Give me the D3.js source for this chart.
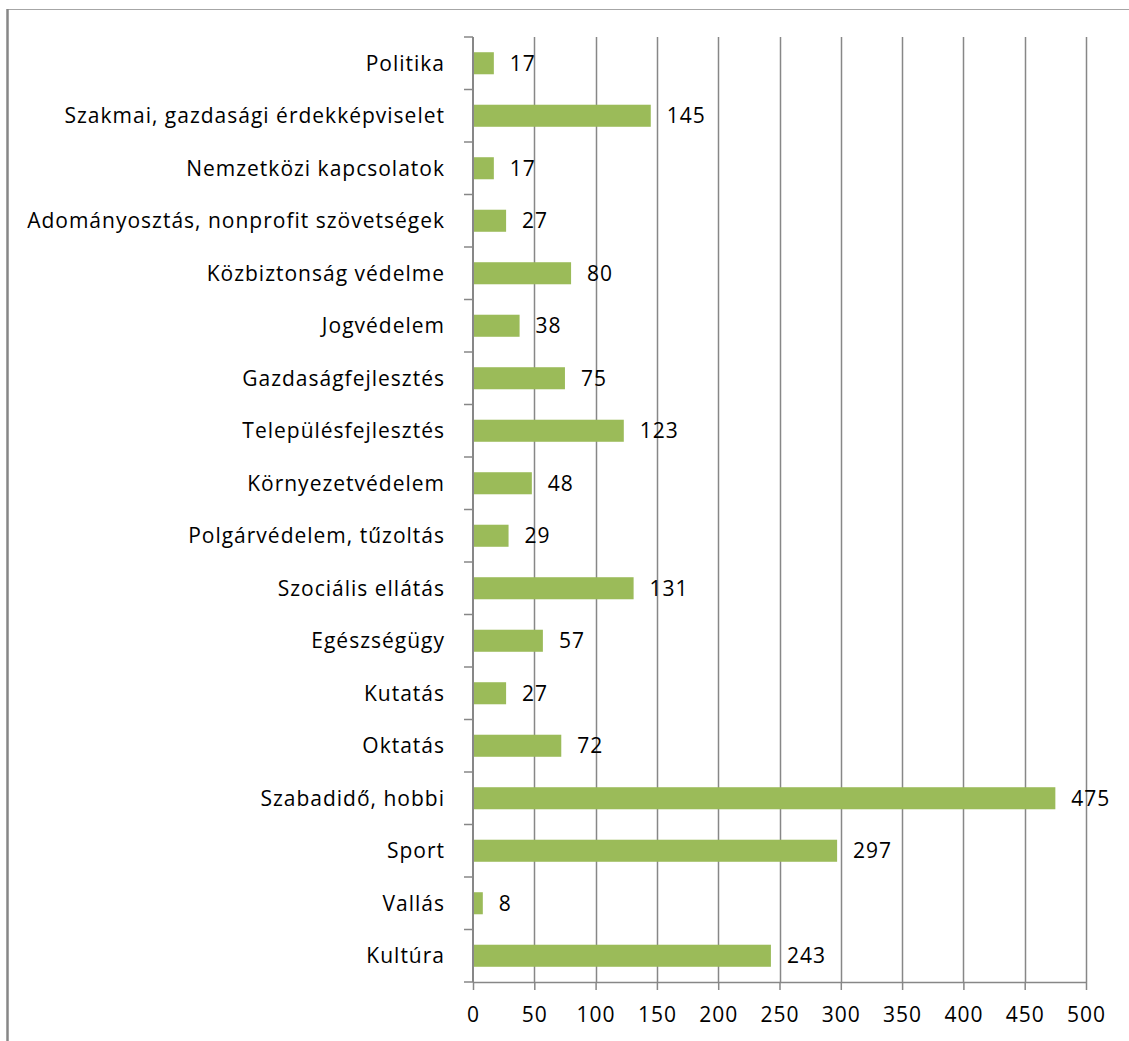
<!DOCTYPE html>
<html>
<head>
<meta charset="utf-8">
<script src="https://cdn.jsdelivr.net/npm/d3@7"></script>
<style>
    body { margin: 0; background: #fff; }
    svg { display: block; }
</style>
</head>
<body>
<div id="chart"></div>
<script>
// categories, top to bottom
const categories = [
    "Politika",
    "Szakmai, gazdasági érdekképviselet",
    "Nemzetközi kapcsolatok",
    "Adományosztás, nonprofit szövetségek",
    "Közbiztonság védelme",
    "Jogvédelem",
    "Gazdaságfejlesztés",
    "Településfejlesztés",
    "Környezetvédelem",
    "Polgárvédelem, tűzoltás",
    "Szociális ellátás",
    "Egészségügy",
    "Kutatás",
    "Oktatás",
    "Szabadidő, hobbi",
    "Sport",
    "Vallás",
    "Kultúra"
];
const counts = [17, 145, 17, 27, 80, 38, 75, 123, 48, 29, 131, 57, 27, 72, 475, 297, 8, 243];
const xTicks = [0, 50, 100, 150, 200, 250, 300, 350, 400, 450, 500];

const width = 1129, height = 1041;
const margin = {top: 37, right: 43, bottom: 59, left: 473};
const gray = "#878787";
const font = "'Open Sans', sans-serif";
const fontSize = "21px";
const spacing = "1px";

const svg = d3.select("#chart").append("svg")
    .attr("width", width)
    .attr("height", height);

// outer frame: top + left edge
svg.append("line")
    .attr("x1", 7).attr("x2", width).attr("y1", 9.5).attr("y2", 9.5)
    .attr("stroke", "#a6a6a6").attr("stroke-width", 1);
svg.append("line")
    .attr("x1", 7.5).attr("x2", 7.5).attr("y1", 9).attr("y2", height)
    .attr("stroke", gray).attr("stroke-width", 2.5);

const x = d3.scaleLinear()
    .domain([0, 500])
    .range([margin.left, width - margin.right]);

const y = d3.scaleBand()
    .domain(categories)
    .range([margin.top, height - margin.bottom])
    .paddingInner(0.58)
    .paddingOuter(0.29);

const plotBottom = height - margin.bottom;

// vertical gridlines
svg.append("g")
    .selectAll("line")
    .data(xTicks.slice(1))
    .join("line")
    .attr("x1", d => Math.round(x(d)) + 0.5)
    .attr("x2", d => Math.round(x(d)) + 0.5)
    .attr("y1", margin.top)
    .attr("y2", plotBottom)
    .attr("stroke", gray)
    .attr("stroke-width", 1.5);

// bars
svg.append("g")
    .selectAll("rect")
    .data(counts)
    .join("rect")
    .attr("x", x(0))
    .attr("y", (d, i) => y(categories[i]))
    .attr("width", d => x(d) - x(0))
    .attr("height", y.bandwidth())
    .attr("fill", "#9bbb59");

// value labels
svg.append("g")
    .selectAll("text")
    .data(counts)
    .join("text")
    .attr("x", d => x(d) + 16)
    .attr("y", (d, i) => y(categories[i]) + y.bandwidth() / 2)
    .attr("dy", "0.36em")
    .attr("font-family", font)
    .attr("font-size", fontSize)
    .attr("letter-spacing", spacing)
    .attr("fill", "#000")
    .text(d => d);

// x axis
const xAxis = d3.axisBottom(x)
    .tickValues(xTicks)
    .tickSize(8)
    .tickPadding(17)
    .tickSizeOuter(0);

const gx = svg.append("g")
    .attr("transform", `translate(0, ${plotBottom})`)
    .call(xAxis);
gx.select(".domain").attr("stroke", gray).attr("stroke-width", 1.5);
gx.selectAll(".tick line").attr("stroke", gray).attr("stroke-width", 1.5);
gx.selectAll(".tick text")
    .attr("font-family", font)
    .attr("font-size", fontSize)
    .attr("letter-spacing", spacing)
    .attr("fill", "#000");

// y axis with category ticks between bands
const yAxisLine = svg.append("g");
yAxisLine.append("line")
    .attr("x1", x(0)).attr("x2", x(0))
    .attr("y1", margin.top).attr("y2", plotBottom)
    .attr("stroke", gray).attr("stroke-width", 2);

const bounds = d3.range(categories.length + 1).map(i => margin.top + i * (plotBottom - margin.top) / categories.length);
yAxisLine.selectAll(".ytick")
    .data(bounds)
    .join("line")
    .attr("class", "ytick")
    .attr("x1", x(0) - 9).attr("x2", x(0))
    .attr("y1", d => d).attr("y2", d => d)
    .attr("stroke", gray).attr("stroke-width", 1.5);

// category labels
svg.append("g")
    .selectAll("text")
    .data(categories)
    .join("text")
    .attr("x", x(0) - 28)
    .attr("y", d => y(d) + y.bandwidth() / 2)
    .attr("dy", "0.36em")
    .attr("text-anchor", "end")
    .attr("font-family", font)
    .attr("font-size", fontSize)
    .attr("letter-spacing", spacing)
    .attr("fill", "#000")
    .text(d => d);
</script>
</body>
</html>
